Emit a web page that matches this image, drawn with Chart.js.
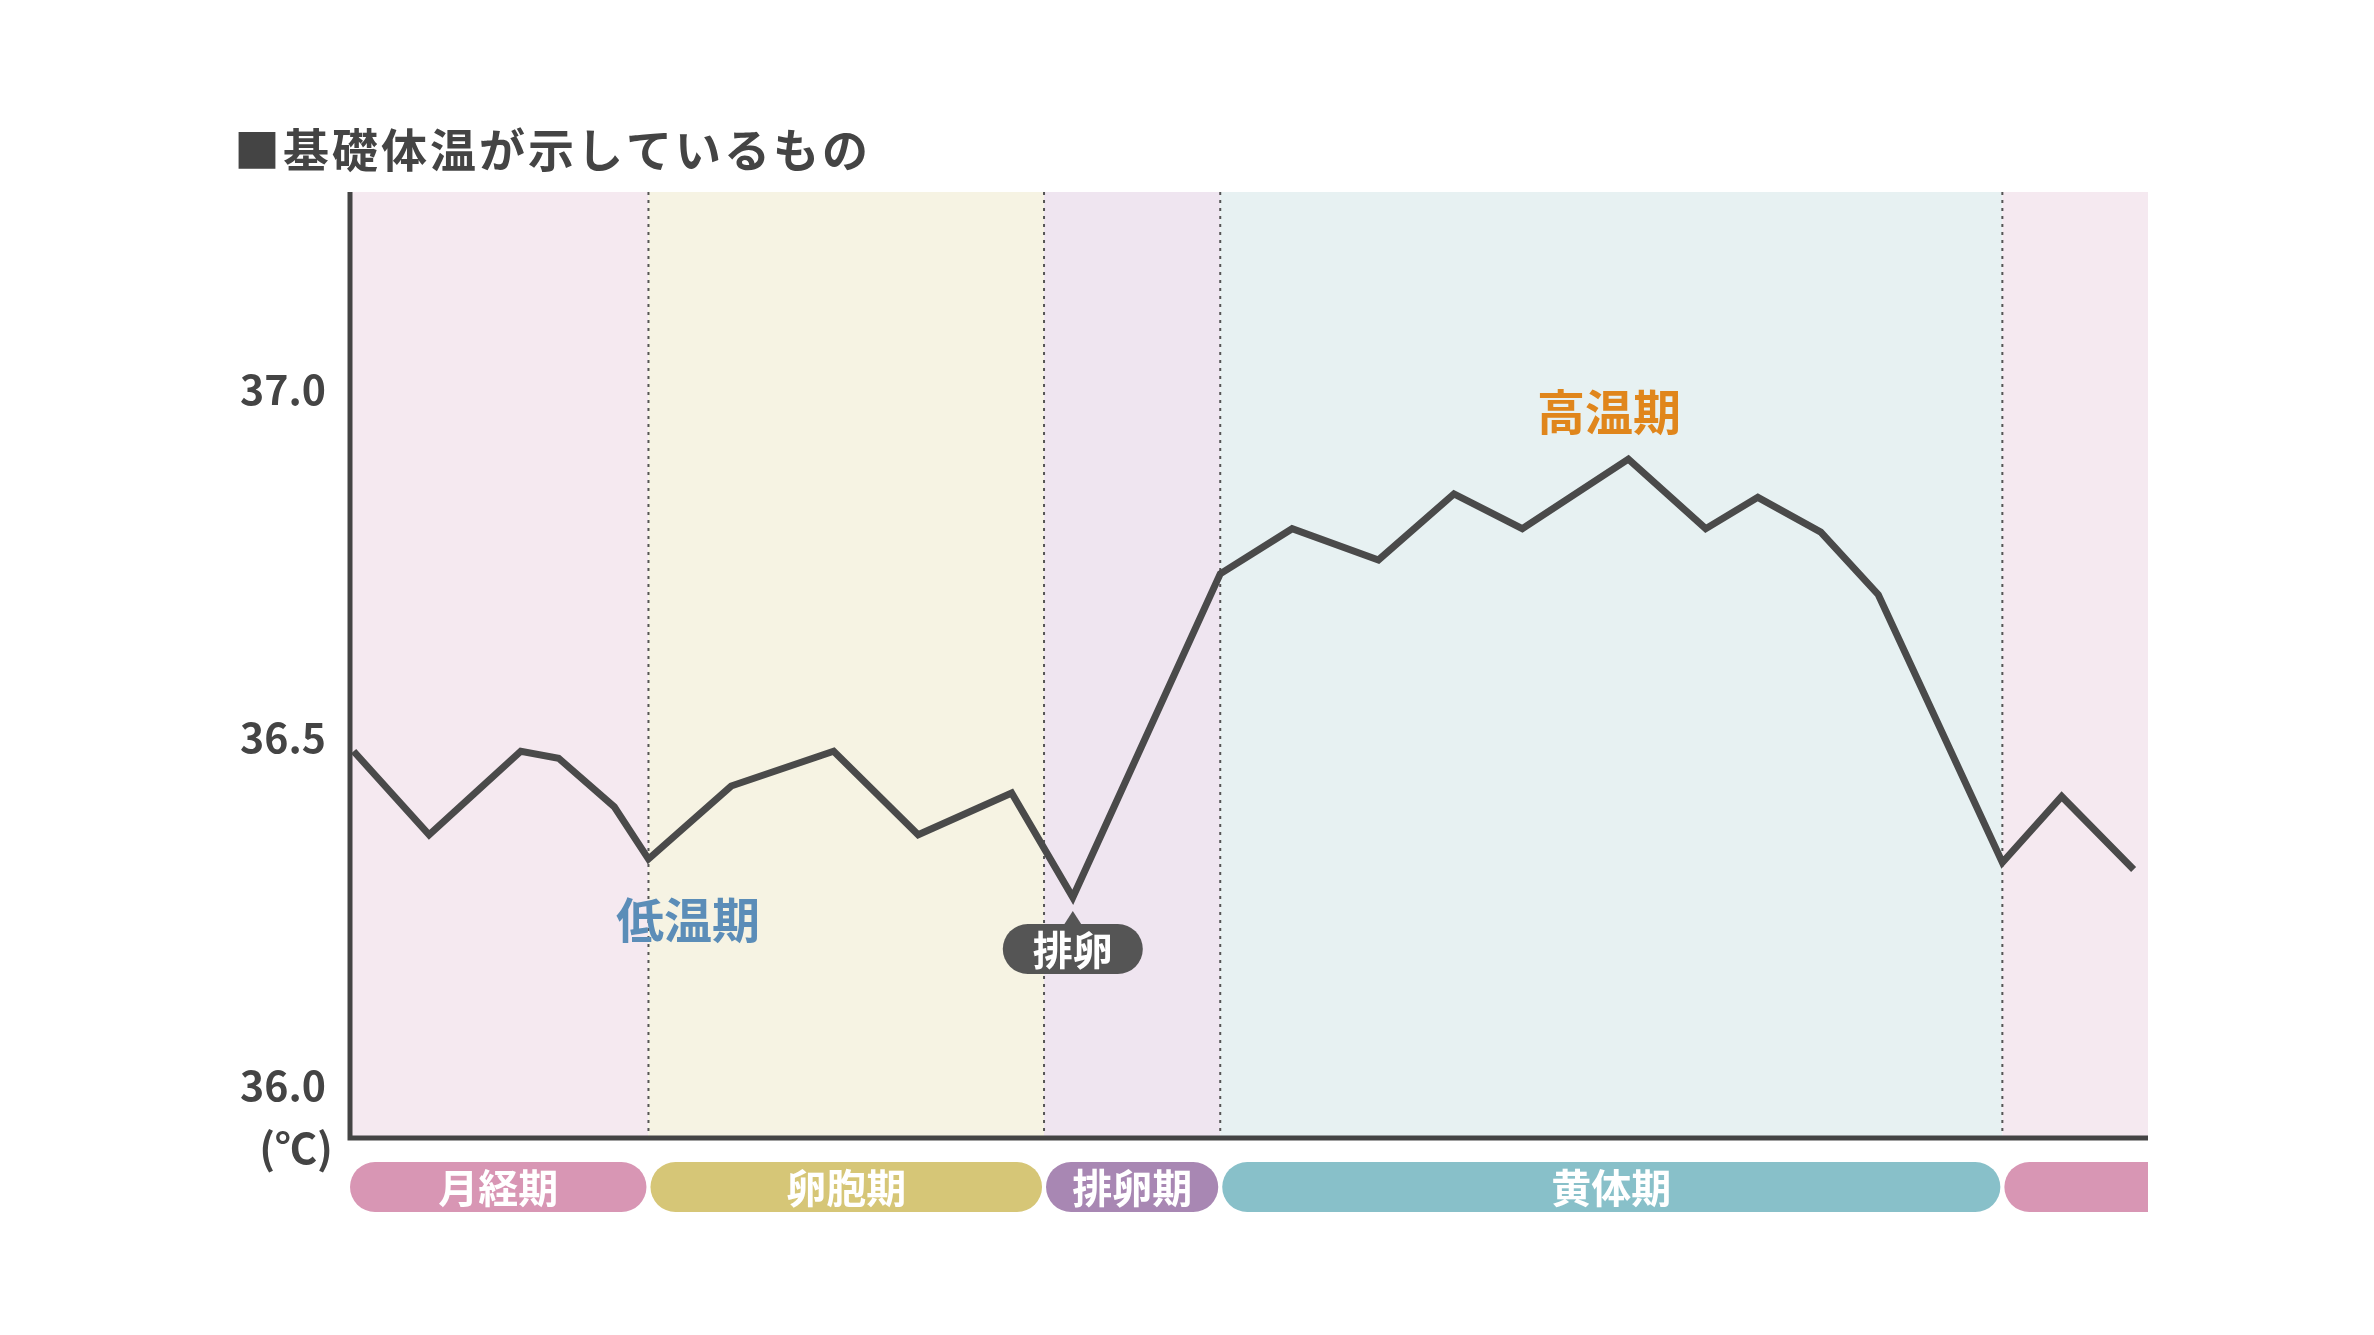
<!DOCTYPE html>
<html><head><meta charset="utf-8">
<script src="https://cdn.jsdelivr.net/npm/chart.js@4"></script>
<style>html,body{margin:0;padding:0;background:#fff}#w{width:2374px;height:1335px}</style>
</head><body><div id="w"><canvas id="c"></canvas></div>
<script>
const dayPos=[0.2,4.4,9.5,11.6,14.7,16.6,21.2,26.9,31.6,36.8,40.2,48.4,52.4,57.2,61.4,65.2,71.1,75.4,78.3,81.8,85.0,91.9,95.2,99.2];
const temps=[36.48,36.36,36.48,36.47,36.40,36.325,36.43,36.48,36.36,36.42,36.27,36.735,36.80,36.755,36.85,36.80,36.90,36.80,36.845,36.795,36.705,36.32,36.415,36.31];
const phaseNames=['月経期','卵胞期','排卵期','黄体期',''];
const phaseStart=[0,16.6,38.6,48.4,91.9];
const phaseEnd=[16.6,38.6,48.4,91.9,100];
const phaseBg=['#f5e9f0','#f6f3e3','#efe5f0','#e7f1f2','#f5e9f0'];
const phasePill=['#d896b4','#d6c677','#a887b3','#88c0c9','#d896b4'];
const yTicks=[36.0,36.5,37.0];
const FONT='"Noto Sans CJK JP","Noto Sans",sans-serif';

const deco={id:'deco',
beforeDatasetsDraw(ch){const {ctx,chartArea:a,scales:{x}}=ch;ctx.save();
 for(let i=0;i<phaseStart.length;i++){const x0=x.getPixelForValue(phaseStart[i]),x1=x.getPixelForValue(phaseEnd[i]);
  ctx.fillStyle=phaseBg[i];ctx.fillRect(x0,a.top,x1-x0,a.bottom-a.top);}
 ctx.strokeStyle='#555';ctx.lineWidth=2;ctx.setLineDash([3,5]);
 for(let i=1;i<phaseStart.length;i++){const px=x.getPixelForValue(phaseStart[i]);ctx.beginPath();ctx.moveTo(px,a.top);ctx.lineTo(px,a.bottom);ctx.stroke();}
 ctx.setLineDash([]);ctx.restore();},
afterDatasetsDraw(ch){const {ctx,chartArea:a,scales:{x,y}}=ch;ctx.save();
 ctx.strokeStyle='#444';ctx.lineWidth=5;ctx.beginPath();ctx.moveTo(a.left,a.top);ctx.lineTo(a.left,a.bottom);ctx.lineTo(a.right,a.bottom);ctx.stroke();
 const pt=1162,ph=50;ctx.textAlign='center';ctx.textBaseline='middle';
 for(let i=0;i<phaseStart.length;i++){const x0=x.getPixelForValue(phaseStart[i])+(i?2:0),x1=Math.min(x.getPixelForValue(phaseEnd[i])-2,a.right);
  ctx.fillStyle=phasePill[i];ctx.beginPath();
  if(i===phaseStart.length-1){ctx.roundRect(x0,pt,x1+2-x0,ph,[ph/2,0,0,ph/2]);}else ctx.roundRect(x0,pt,x1-x0,ph,ph/2);ctx.fill();
  if(phaseNames[i]){ctx.fillStyle='#fff';ctx.font='bold 40px '+FONT;ctx.fillText(phaseNames[i],(x0+x1)/2,pt+ph/2+1);}}
 ctx.font='bold 48px '+FONT;ctx.fillStyle='#5b8db8';ctx.fillText('低温期',688,920);
 ctx.fillStyle='#e0861c';ctx.fillText('高温期',1609,412);
 const bx=x.getPixelForValue(40.2),by=949;ctx.fillStyle='#555';
 ctx.beginPath();ctx.roundRect(bx-70,by-25,140,50,25);ctx.fill();
 ctx.beginPath();ctx.moveTo(bx-9,by-24);ctx.lineTo(bx,by-38);ctx.lineTo(bx+9,by-24);ctx.fill();
 ctx.fillStyle='#fff';ctx.font='bold 40px '+FONT;ctx.fillText('排卵',bx,by+1);
 ctx.fillStyle='#444';ctx.textAlign='left';ctx.font='bold 46px '+FONT;ctx.letterSpacing='3px';ctx.fillText('■基礎体温が示しているもの',234,150);
 ctx.letterSpacing='0px';ctx.textAlign='right';ctx.font='bold 42px '+FONT;ctx.fillText('(℃)',333,1148);
 ctx.restore();}};

new Chart(document.getElementById('c'),{type:'line',
data:{datasets:[{data:dayPos.map((d,i)=>({x:d,y:temps[i]})),borderColor:'#4a4a4a',borderWidth:7,pointRadius:0,tension:0,borderJoinStyle:'miter'}]},
options:{responsive:true,maintainAspectRatio:false,animation:false,
 layout:{padding:{left:0,top:192,right:216+10,bottom:193+4}},
 plugins:{legend:{display:false},tooltip:{enabled:false}},
 scales:{x:{type:'linear',min:0,max:100,display:false},
  y:{min:35.924,max:37.284,afterFit(s){s.width=350;},afterBuildTicks(s){s.ticks=yTicks.map(v=>({value:v}));},
   grid:{display:false},border:{display:false},
   ticks:{color:'#444',padding:16,font:{family:FONT,size:41,weight:'bold'},callback:v=>v.toFixed(1)}}}},
plugins:[deco]});
</script></body></html>
